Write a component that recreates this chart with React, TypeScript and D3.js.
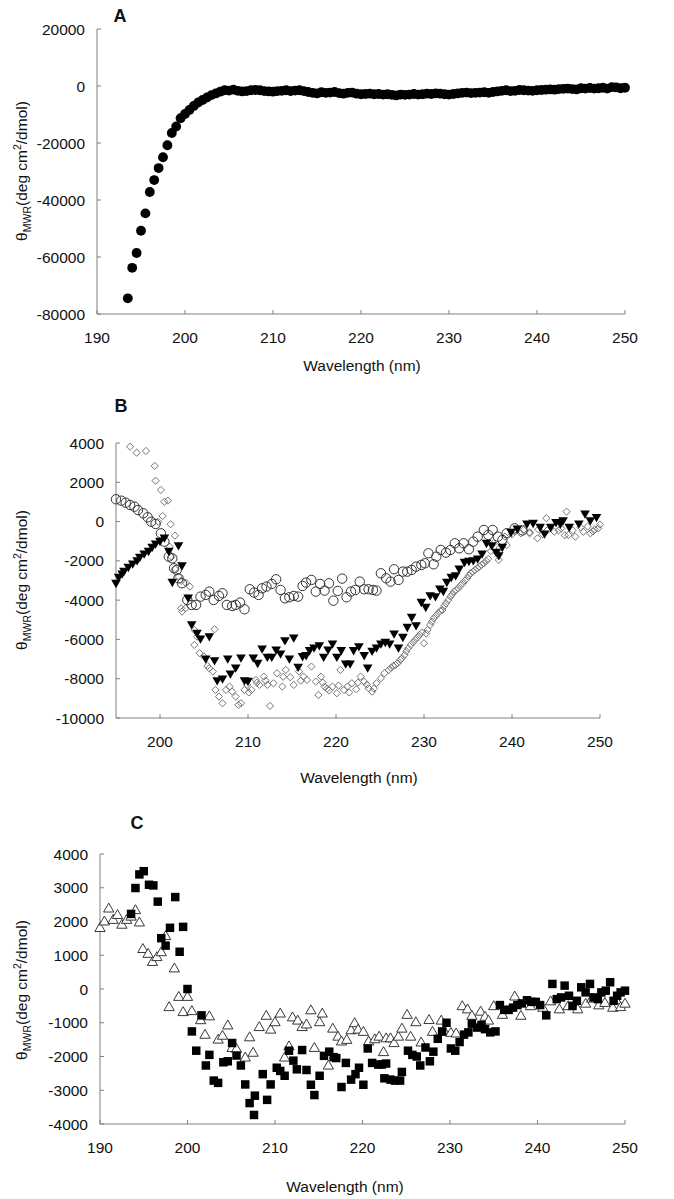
import React from "react";
import * as d3 from "d3";

const FONT = "'Liberation Sans', Arial, Helvetica, sans-serif";

// ---------- Panel A ----------
const aWavelength = [
  193.5, 194, 194.5, 195, 195.5, 196, 196.5, 197, 197.5, 198, 198.5, 199, 199.5, 200, 200.5, 201, 201.5, 202, 202.5, 203, 203.5, 204, 204.5,
  205, 205.5, 206, 206.5, 207, 207.5, 208, 208.5, 209, 209.5, 210, 210.5, 211, 211.5, 212, 212.5, 213, 213.5, 214, 214.5, 215, 215.5,
  216, 216.5, 217, 217.5, 218, 218.5, 219, 219.5, 220, 220.5, 221, 221.5, 222, 222.5, 223, 223.5, 224, 224.5, 225, 225.5, 226, 226.5,
  227, 227.5, 228, 228.5, 229, 229.5, 230, 230.5, 231, 231.5, 232, 232.5, 233, 233.5, 234, 234.5, 235, 235.5, 236, 236.5, 237, 237.5,
  238, 238.5, 239, 239.5, 240, 240.5, 241, 241.5, 242, 242.5, 243, 243.5, 244, 244.5, 245, 245.5, 246, 246.5, 247, 247.5, 248, 248.5,
  249, 249.5, 250,
];
const aTheta = [
  -74500, -63800, -58600, -50800, -44700, -37200, -33000, -28800, -25000, -20800, -16500, -14200, -11300, -9800, -8400, -7000, -5800,
  -4900, -4000, -3200, -2600, -2000, -1500,
  -1600, -1300, -1700, -1900, -1800, -1500, -1400, -1500, -1800, -1900, -2000, -1800, -1700, -1500, -1800, -1600, -1500, -1800, -2100,
  -2400, -2600, -2200, -2400, -2300, -2100, -2500, -2700, -2400, -2300, -2700, -2900, -2800, -2700, -2900, -2800, -3000, -2900, -3100,
  -3300, -3000, -3100, -3000, -2800, -3000, -2900, -2700, -2800, -2600, -2700, -2900, -3000, -2800, -2600, -2400, -2300, -2500, -2400,
  -2300, -2200, -2400, -2100, -1900, -1700, -1500, -1800, -1700, -1400, -1500, -1600, -1700, -1500, -1400, -1300, -1200, -1300, -1100,
  -1000, -900, -1100, -1200, -800, -900, -700, -900, -800, -600, -900, -400, -500, -800, -600,
];
const aXTicks = [190, 200, 210, 220, 230, 240, 250];
const aYTicks = [20000, 0, -20000, -40000, -60000, -80000];

// ---------- Panel B ----------
const bCircles: [number, number][] = [
  [195.0, 1135], [195.6, 1064], [196.1, 962], [196.6, 845], [197.1, 758], [197.5, 590], [198.1, 422], [198.6, 218], [199.0, -5],
  [199.5, -122], [200.1, -597], [200.5, -1022], [201.0, -1785], [201.4, -1870], [201.6, -2377], [201.9, -2463], [202.1, -2887],
  [202.5, -3140], [203.1, -3990], [203.6, -4244], [204.1, -4244], [204.6, -3820], [205.2, -3735], [205.6, -3565], [206.1, -3990],
  [206.7, -3786], [207.1, -3650], [207.6, -4244], [208.2, -4295], [208.6, -4244], [209.1, -4126], [209.6, -4465], [210.2, -3447],
  [210.7, -3617], [211.2, -3735], [211.6, -3396], [212.1, -3311], [212.7, -3176], [213.2, -2938], [213.7, -3481], [214.2, -3905],
  [214.7, -3854], [215.2, -3786], [215.7, -3820], [216.2, -3277], [216.6, -3108], [217.2, -2972], [217.7, -3565], [218.2, -3176],
  [218.7, -3515], [219.2, -3142], [219.7, -4024], [220.2, -3532], [220.7, -2904], [221.2, -3854], [221.7, -3565], [222.2, -3481],
  [222.7, -3057], [223.2, -3447], [223.7, -3447], [224.2, -3481], [224.6, -3515], [225.1, -2632], [225.7, -2887], [226.2, -3057],
  [226.6, -2429], [227.1, -2972], [227.6, -2548], [228.1, -2548], [228.6, -2463], [229.1, -2293], [229.7, -2208], [230.1, -2124],
  [230.5, -1615], [231.1, -2175], [231.4, -1785], [231.9, -1445], [232.5, -1581], [233.0, -1445], [233.5, -1106], [234.0, -1360],
  [234.5, -1106], [235.1, -1411], [235.6, -1021], [236.1, -767], [236.8, -427], [237.3, -682], [237.8, -427], [238.4, -767],
  [238.9, -936], [239.4, -597], [240.3, -342], [241.2, -450],
];
const bTriangles: [number, number][] = [
  [195.0, -3108], [195.3, -2802], [195.7, -2632], [195.9, -2497], [196.4, -2293], [196.9, -2124], [197.4, -1954], [197.7, -1785],
  [198.2, -1615], [198.7, -1480], [199.1, -1276], [199.5, -1106], [200.0, -971], [200.5, -800], [201.0, -1480], [201.4, -3057],
  [202.1, -1191], [202.5, -2208], [203.2, -3854], [203.6, -5211], [204.2, -5652], [204.6, -5939], [205.2, -6957], [205.6, -5822],
  [206.2, -7043], [206.5, -8061], [207.1, -7975], [207.7, -6957], [208.0, -7720], [208.6, -7415], [209.2, -6906], [209.6, -8061],
  [210.0, -8096], [210.6, -6906], [211.1, -7181], [211.6, -6448], [212.2, -6872], [212.7, -6872], [213.2, -6499], [213.7, -6702],
  [214.2, -6025], [214.7, -6957], [215.2, -5889], [215.7, -7381], [216.2, -6838], [216.6, -6787], [217.0, -6533], [217.5, -6397],
  [218.1, -6279], [218.6, -6872], [219.1, -6499], [219.6, -6194], [220.1, -6872], [220.6, -6533], [221.1, -7211], [221.6, -7211],
  [222.0, -6533], [222.6, -6330], [223.2, -6787], [223.6, -7415], [224.1, -6567], [224.6, -6397], [225.1, -6194], [225.6, -6110],
  [226.1, -6194], [226.6, -5685], [227.1, -6397], [227.6, -5856], [228.1, -5347], [228.6, -4838], [229.1, -5262], [229.7, -4075],
  [230.2, -4329], [230.7, -3735], [231.3, -3786], [231.8, -3396], [232.2, -3515], [232.6, -3057], [233.1, -2802], [233.6, -2717],
  [234.0, -2378], [234.6, -2039], [235.1, -1988], [235.6, -1954], [236.1, -1870], [236.6, -1615], [237.1, -1072], [237.7, -1191],
  [238.2, -1530], [238.5, -1700], [238.9, -1276], [239.9, -512], [240.6, -342], [241.7, -88], [242.4, -54], [243.2, -258],
  [243.7, -597], [244.4, -258], [245.0, -5], [245.5, -88], [245.8, 80], [246.5, -258], [247.6, -88], [248.3, 420], [248.9, 80],
  [249.6, 250],
];
const bDiamonds: [number, number][] = [
  [196.6, 3812], [197.35, 3506], [198.4, 3593], [199.4, 2829], [199.5, 2081], [199.8, -5], [200.1, 1608], [200.3, 285], [200.5, 1013],
  [200.9, 1064], [201.1, -1276], [201.2, -137], [201.3, -1785], [201.7, -716], [201.7, -2412], [202.1, -2802], [202.4, -3023],
  [202.4, -4414], [202.5, -4584], [202.9, -3108], [202.9, -4414], [203.4, -3311], [203.9, -5517], [203.9, -6279], [204.2, -5856],
  [204.5, -6702], [205.0, -6872], [205.4, -7347], [205.6, -7466], [206.0, -7635], [206.2, -5483], [206.3, -8570], [206.7, -8910],
  [207.1, -9248], [207.5, -8570], [207.9, -8401], [208.2, -8655], [208.6, -8910], [208.9, -9333], [209.2, -9248], [209.6, -8570],
  [209.9, -8316], [210.1, -8700], [210.4, -8570], [210.9, -8061], [211.0, -8200], [211.3, -8316], [211.8, -7891], [212.0, -8100],
  [212.2, -8316], [212.5, -9384], [212.9, -8231], [213.3, -7720], [213.9, -8401], [214.0, -7900], [214.3, -7552], [214.8, -7924],
  [215.2, -8316], [215.8, -7635], [216.0, -8100], [216.3, -7891], [216.7, -8061], [217.2, -7381], [217.7, -8146], [218.0, -8825],
  [218.3, -7891], [218.5, -8200], [218.7, -8401], [219.0, -8500], [219.2, -8604], [219.6, -8401], [220.1, -8740], [220.3, -8350],
  [220.5, -7552], [220.9, -8570], [221.3, -8401], [221.5, -8700], [221.8, -8231], [222.3, -8536], [222.5, -8200], [222.8, -7891],
  [223.2, -8146], [223.5, -8300], [223.7, -8485], [224.1, -8655], [224.3, -8500], [224.6, -8231], [225.1, -7975], [225.5, -7720],
  [226.0, -7552], [226.25, -7450], [226.5, -7347], [226.75, -7300], [227.0, -7211], [227.3, -7043], [227.5, -6950], [227.8, -6787],
  [228.0, -6600], [228.2, -6448], [228.5, -6279], [228.75, -6150], [229.0, -6025], [229.25, -5900], [229.5, -5771], [229.75, -5650],
  [230.0, -6194], [230.25, -5700], [230.4, -5517], [230.7, -5262], [230.9, -5100], [231.1, -4923], [231.35, -4800], [231.6, -4668],
  [231.85, -4550], [232.1, -4499], [232.3, -4300], [232.5, -4160], [232.75, -4000], [233.0, -3820], [233.2, -3700], [233.4, -3565],
  [233.65, -3480], [233.9, -3396], [234.15, -3250], [234.4, -3142], [234.65, -3000], [234.9, -2887], [235.1, -2750], [235.3, -2632],
  [235.55, -2550], [235.8, -2463], [236.05, -2380], [236.3, -2293], [236.55, -2200], [236.8, -2124], [237.05, -2000], [237.3, -1900],
  [237.6, -1500], [237.9, -1106], [238.3, -1600], [238.5, -1954], [238.6, -1350], [239.2, -767], [239.4, -1200], [240.0, -650],
  [240.3, -512], [241.0, -600], [241.3, -427], [242.0, -597], [242.0, -550], [242.9, -851], [243.0, -400], [243.5, -650],
  [243.9, 170], [244.0, -450], [244.8, -512], [245.3, -450], [245.6, -350], [246.0, -700], [246.2, 504], [246.4, -682],
  [246.9, -450], [247.2, -767], [247.8, -300], [248.1, -512], [248.6, -250], [248.9, -597], [249.2, -500], [249.4, -400],
  [249.8, -342], [250.0, -150],
];
const bXTicks = [200, 210, 220, 230, 240, 250];
const bYTicks = [4000, 2000, 0, -2000, -4000, -6000, -8000, -10000];

// ---------- Panel C ----------
const cSquares: [number, number][] = [
  [193.55, 2225], [194.05, 2992], [194.5, 3395], [195.0, 3491], [195.6, 3088], [196.1, 3069], [196.6, 2589], [197.0, 1506],
  [197.5, 1285], [198.0, 1813], [198.6, 2724], [199.1, 1103], [199.5, 1841], [200.0, 0], [200.5, -1257], [201.0, -1828],
  [201.6, -781], [202.1, -2266], [202.5, -1952], [203.0, -2714], [203.5, -2781], [204.1, -2171], [204.6, -2142], [205.1, -1600],
  [205.6, -1971], [206.1, -2266], [206.6, -2828], [207.1, -3380], [207.6, -3732], [207.7, -3161], [208.6, -2523], [209.1, -3285],
  [209.5, -2828], [210.2, -2333], [210.6, -2428], [211.1, -2571], [211.6, -1828], [212.1, -2123], [212.5, -2380], [213.1, -1809],
  [213.6, -2400], [214.1, -2837], [214.5, -3142], [215.1, -2571], [215.6, -1981], [216.2, -1857], [216.7, -2019], [217.0, -2047],
  [217.6, -2904], [218.1, -2190], [218.7, -2685], [219.2, -2523], [219.6, -2333], [220.1, -2837], [220.6, -1762], [221.1, -2190],
  [221.8, -2238], [222.2, -2238], [222.5, -2647], [222.7, -2209], [223.2, -2685], [223.7, -2714], [224.3, -2714], [224.5, -2457],
  [225.2, -1828], [225.7, -1952], [226.2, -2000], [226.6, -2266], [227.2, -1733], [227.7, -2142], [228.1, -1857], [228.6, -1476],
  [229.1, -1257], [229.6, -1000], [230.1, -1762], [230.6, -1828], [231.1, -1571], [231.6, -1352], [232.1, -1285], [232.5, -1028],
  [233.1, -1143], [233.6, -1066], [234.0, -1190], [234.6, -1285], [235.2, -1257], [235.7, -476], [236.2, -619], [236.7, -619],
  [237.2, -552], [237.7, -476], [238.2, -428], [238.8, -333], [239.3, -381], [239.8, -381], [240.3, -476], [241.0, -781],
  [241.7, 150], [242.2, -300], [242.7, -250], [243.1, 100], [243.6, -200], [244.0, -500], [244.5, -350], [245.0, 50], [245.5, -100],
  [246.0, 150], [246.4, -250], [246.9, -300], [247.3, -100], [247.8, -50], [248.3, 200], [248.7, -350], [249.1, -200], [249.5, -100],
  [250.0, -50],
];
const cTriangles: [number, number][] = [
  [190.0, 1793], [190.5, 1985], [191.0, 2369], [191.5, 2033], [192.0, 2177], [192.5, 1889], [193.05, 2033], [193.55, 2129],
  [194.05, 2321], [194.5, 1956], [194.9, 1170], [195.5, 1026], [196.0, 786], [196.5, 930], [197.0, 1074], [197.5, 1553],
  [197.9, -552], [198.5, 594], [199.0, -249], [199.5, -700], [200.0, -249], [200.5, -671], [201.5, -940], [202.0, -1371],
  [202.5, -825], [203.5, -1515], [204.0, -1400], [204.6, -1095], [205.1, -1762], [205.6, -1790], [206.6, -2047], [207.1, -1447],
  [207.5, -1904], [208.2, -1143], [209.0, -809], [209.5, -1219], [210.0, -1000], [210.6, -743], [211.1, -2047], [211.6, -1714],
  [212.0, -857], [212.6, -952], [213.1, -1143], [213.6, -1066], [214.1, -647], [214.5, -1762], [215.1, -1000], [215.4, -743],
  [216.1, -2285], [216.6, -1190], [217.2, -1428], [217.6, -1571], [218.2, -1523], [218.7, -1238], [219.1, -1028], [219.5, -1219],
  [220.1, -1285], [220.7, -1571], [221.4, -1505], [221.9, -1428], [222.4, -1885], [222.7, -1476], [223.2, -1476], [223.6, -1619],
  [224.1, -1428], [224.5, -1190], [225.1, -781], [225.5, -1428], [226.1, -1000], [226.7, -1600], [227.6, -933], [228.0, -1285],
  [229.0, -952], [229.4, -1285], [230.1, -1314], [230.7, -1333], [231.4, -524], [232.0, -619], [232.5, -809], [233.5, -686],
  [234.0, -838], [234.4, -952], [235.0, -524], [236.0, -781], [237.4, -238], [238.1, -809], [239.2, -524], [240.6, -571],
  [241.5, -381], [242.5, -619], [243.5, -524], [244.6, -619], [245.5, -450], [246.2, -300], [247.0, -500], [247.7, -428],
  [248.6, -571], [249.0, -350], [249.5, -552], [250.0, -450],
];
const cXTicks = [190, 200, 210, 220, 230, 240, 250];
const cYTicks = [4000, 3000, 2000, 1000, 0, -1000, -2000, -3000, -4000];

const AXIS_COLOR = "#808080";
const TICK_FONT = 15.5;

type Scale = d3.ScaleLinear<number, number>;

function YTitle({ cx, cy }: { cx: number; cy: number }) {
  return (
    <text transform={`translate(${cx},${cy}) rotate(-90)`} textAnchor="middle" fontSize={15.5} fontFamily={FONT} fill="#111">
      θ<tspan fontSize={10.5} dy={4}>MWR</tspan>
      <tspan dy={-4}>(deg cm</tspan>
      <tspan fontSize={10.5} dy={-6}>2</tspan>
      <tspan dy={6}>/dmol)</tspan>
    </text>
  );
}

function Axes({ x, y, xTicks, yTicks }: { x: Scale; y: Scale; xTicks: number[]; yTicks: number[] }) {
  const [x0, x1] = x.range();
  const [yb, yt] = y.range();
  return (
    <g>
      <line x1={x0} x2={x0} y1={yt} y2={yb} stroke={AXIS_COLOR} strokeWidth={1} />
      <line x1={x0} x2={x1} y1={yb} y2={yb} stroke={AXIS_COLOR} strokeWidth={1} />
      {yTicks.map((t) => (
        <g key={"y" + t}>
          <line x1={x0} x2={x0 + 4} y1={y(t)} y2={y(t)} stroke={AXIS_COLOR} strokeWidth={1} />
          <text x={x0 - 12} y={y(t)} dy="0.36em" textAnchor="end" fontSize={TICK_FONT} fontFamily={FONT} fill="#111">
            {String(t)}
          </text>
        </g>
      ))}
      {xTicks.map((t) => (
        <g key={"x" + t}>
          <line x1={x(t)} x2={x(t)} y1={yb} y2={yb - 4} stroke={AXIS_COLOR} strokeWidth={1} />
          <text x={x(t)} y={yb + 29} textAnchor="middle" fontSize={TICK_FONT} fontFamily={FONT} fill="#111">
            {String(t)}
          </text>
        </g>
      ))}
    </g>
  );
}

function XTitle({ cx, cy }: { cx: number; cy: number }) {
  return (
    <text x={cx} y={cy} textAnchor="middle" fontSize={15.5} fontFamily={FONT} fill="#111">
      Wavelength (nm)
    </text>
  );
}

function Letter({ x, y, t }: { x: number; y: number; t: string }) {
  return (
    <text x={x} y={y} textAnchor="middle" fontSize={18} fontWeight="bold" fontFamily={FONT} fill="#111">
      {t}
    </text>
  );
}

const circlePath = d3.symbol().type(d3.symbolCircle).size(76)() as string;
const triPath = d3.symbol().type(d3.symbolTriangle).size(40)() as string;
const openTriPath = d3.symbol().type(d3.symbolTriangle).size(46)() as string;
const squarePath = d3.symbol().type(d3.symbolSquare).size(72)() as string;
const diamondPath = d3.symbol().type(d3.symbolSquare).size(26)() as string;

export default function App() {
  // Panel A scales
  const ax = d3.scaleLinear().domain([190, 250]).range([97, 625]);
  const ay = d3.scaleLinear().domain([-80000, 20000]).range([314, 29]);
  // Panel B scales
  const bx = d3.scaleLinear().domain([195, 250]).range([116, 600]);
  const by = d3.scaleLinear().domain([-10000, 4000]).range([718, 443]);
  // Panel C scales
  const cx = d3.scaleLinear().domain([190, 250]).range([100, 625]);
  const cy = d3.scaleLinear().domain([-4000, 4000]).range([1124, 854]);

  return (
    <svg
      width={674}
      height={1199}
      viewBox="0 0 674 1199"
      style={{ position: "absolute", left: 0, top: 0, background: "#fff" }}
    >
      <rect x={0} y={0} width={674} height={1199} fill="#fff" />

      {/* Panel A */}
      <Letter x={120} y={22} t="A" />
      <Axes x={ax} y={ay} xTicks={aXTicks} yTicks={aYTicks} />
      <YTitle cx={27} cy={171} />
      <XTitle cx={362} cy={371} />
      <g>
        {aWavelength.map((w, i) => (
          <path key={i} d={circlePath} transform={`translate(${ax(w)},${ay(aTheta[i])})`} fill="#000" />
        ))}
      </g>

      {/* Panel B */}
      <Letter x={121} y={412} t="B" />
      <Axes x={bx} y={by} xTicks={bXTicks} yTicks={bYTicks} />
      <YTitle cx={27} cy={580} />
      <XTitle cx={359} cy={783} />
      <g>
        {bDiamonds.map(([w, v], i) => (
          <path
            key={"d" + i}
            d={diamondPath}
            transform={`translate(${bx(w)},${by(v)}) rotate(45)`}
            fill="none"
            stroke="#6e6e6e"
            strokeWidth={0.9}
          />
        ))}
        {bCircles.map(([w, v], i) => (
          <circle key={"c" + i} cx={bx(w)} cy={by(v)} r={4.7} fill="none" stroke="#333" strokeWidth={1} />
        ))}
        {bTriangles.map(([w, v], i) => (
          <path key={"t" + i} d={triPath} transform={`translate(${bx(w)},${by(v)}) rotate(180)`} fill="#000" />
        ))}
      </g>

      {/* Panel C */}
      <Letter x={137} y={829} t="C" />
      <Axes x={cx} y={cy} xTicks={cXTicks} yTicks={cYTicks} />
      <YTitle cx={27} cy={990} />
      <XTitle cx={345} cy={1192} />
      <g>
        {cTriangles.map(([w, v], i) => (
          <path
            key={"t" + i}
            d={openTriPath}
            transform={`translate(${cx(w)},${cy(v)})`}
            fill="#fff"
            stroke="#222"
            strokeWidth={0.9}
          />
        ))}
        {cSquares.map(([w, v], i) => (
          <path key={"s" + i} d={squarePath} transform={`translate(${cx(w)},${cy(v)})`} fill="#000" />
        ))}
      </g>
    </svg>
  );
}
